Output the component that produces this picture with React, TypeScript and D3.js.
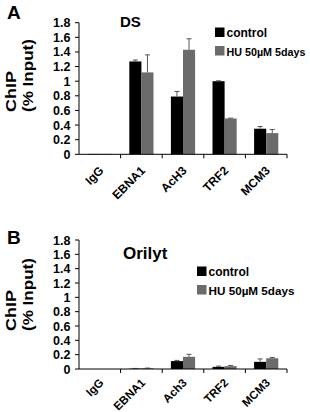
import React from "react";
import * as d3 from "d3";

const categoriesA = ["IgG", "EBNA1", "AcH3", "TRF2", "MCM3"];
const controlA = [0.005, 1.27, 0.79, 1.0, 0.35];
const controlErrA = [0, 0.02, 0.07, 0.005, 0.03];
const huA = [0.005, 1.12, 1.43, 0.49, 0.29];
const huErrA = [0, 0.24, 0.15, 0.005, 0.05];

const categoriesB = ["IgG", "EBNA1", "Ach3", "TRF2", "MCM3"];
const controlB = [0, 0.005, 0.11, 0.03, 0.1];
const controlErrB = [0, 0.003, 0.01, 0.01, 0.04];
const huB = [0, 0.01, 0.17, 0.04, 0.15];
const huErrB = [0, 0.003, 0.035, 0.01, 0.01];

const yTicks = [0, 0.2, 0.4, 0.6, 0.8, 1, 1.2, 1.4, 1.6, 1.8];
const yTickLabels = ["0", "0.2", "0.4", "0.6", "0.8", "1", "1.2", "1.4", "1.6", "1.8"];
const seriesNames = ["control", "HU 50\u00b5M 5days"];
const seriesColors = ["#000000", "#6b6b6b"];

const FONT = "'Liberation Sans', Arial, sans-serif";

type PanelProps = {
  top: number;
  bottom: number;
  letter: string;
  letterY: number;
  title: string;
  titleX: number;
  titleY: number;
  titleSize: number;
  labelStart: number;
  xLabelDy: number;
  xLabelSize: number;
  categories: string[];
  control: number[];
  controlErr: number[];
  hu: number[];
  huErr: number[];
  legendX: number;
  legendY: number;
  legendLen: number;
};

function Panel(p: PanelProps) {
  const left = 79;
  const right = 287;
  const y = d3.scaleLinear().domain([0, 1.8]).range([p.bottom, p.top]);
  const x = d3.scaleBand<string>().domain(p.categories).range([left, right]).paddingInner(0).paddingOuter(0);
  const bw = x.bandwidth();
  const sub = d3.scaleBand<number>().domain([0, 1]).range([0, bw]).paddingOuter(0.72).paddingInner(0);
  const sw = sub.bandwidth();
  const series = [
    { vals: p.control, errs: p.controlErr },
    { vals: p.hu, errs: p.huErr },
  ];
  const boundaries = p.categories.map((c) => (x(c) as number) + bw);
  return (
    <g>
      <text x={7} y={p.letterY} fontFamily={FONT} fontWeight="bold" fontSize={19}>
        {p.letter}
      </text>
      <text x={p.titleX} y={p.titleY} fontFamily={FONT} fontWeight="bold" fontSize={p.titleSize}>
        {p.title}
      </text>
      {/* y label */}
      <text
        transform={`translate(16,${p.labelStart}) rotate(-90)`}
        fontFamily={FONT}
        fontWeight="bold"
        fontSize={15.5}
        textLength={41}
        lengthAdjust="spacingAndGlyphs"
      >
        ChIP
      </text>
      <text
        transform={`translate(32.5,${p.labelStart}) rotate(-90)`}
        fontFamily={FONT}
        fontWeight="bold"
        fontSize={15}
        textLength={73}
        lengthAdjust="spacingAndGlyphs"
      >
        (% Input)
      </text>
      {/* bars */}
      {series.map((s, si) =>
        p.categories.map((c, i) => {
          const bx = (x(c) as number) + (sub(si) as number);
          const v = s.vals[i];
          const e = s.errs[i];
          const cx = bx + sw / 2;
          return (
            <g key={`${si}-${i}`}>
              <rect x={bx} y={y(v)} width={sw} height={Math.max(0, y(0) - y(v))} fill={seriesColors[si]} />
              {e > 0 && (
                <g stroke="#555" strokeWidth={1}>
                  <line x1={cx} x2={cx} y1={y(v)} y2={y(v + e)} />
                  <line x1={cx - 2.5} x2={cx + 2.5} y1={y(v + e)} y2={y(v + e)} />
                </g>
              )}
            </g>
          );
        })
      )}
      {/* y axis */}
      <line x1={left} x2={left} y1={p.top} y2={p.bottom} stroke="#000" strokeWidth={1} />
      {yTicks.map((t, i) => (
        <g key={t}>
          <line x1={left - 4} x2={left} y1={y(t)} y2={y(t)} stroke="#000" />
          <text
            x={left - 8.5}
            y={y(t)}
            dy="0.36em"
            textAnchor="end"
            fontFamily={FONT}
            fontWeight="bold"
            fontSize={12.5}
          >
            {yTickLabels[i]}
          </text>
        </g>
      ))}
      {/* x axis */}
      <line x1={left} x2={right} y1={p.bottom} y2={p.bottom} stroke="#000" strokeWidth={1} />
      {boundaries.map((bx, i) => (
        <line key={i} x1={bx} x2={bx} y1={p.bottom} y2={p.bottom + 4} stroke="#000" />
      ))}
      {p.categories.map((c) => {
        const cx = (x(c) as number) + bw / 2 + 4.5;
        return (
          <text
            key={c}
            transform={`translate(${cx},${p.bottom + p.xLabelDy}) rotate(-45)`}
            textAnchor="end"
            fontFamily={FONT}
            fontWeight="bold"
            fontSize={p.xLabelSize}
          >
            {c}
          </text>
        );
      })}
      {/* legend */}
      {seriesNames.map((n, i) => (
        <g key={n}>
          <rect x={p.legendX} y={p.legendY + i * 18.5 - 9.5} width={9.5} height={9.5} fill={seriesColors[i]} />
          <text
            x={p.legendX + 11.5}
            y={p.legendY + i * 18.5}
            fontFamily={FONT}
            fontWeight="bold"
            fontSize={i === 1 ? 11.2 : 12}
            textLength={i === 1 ? p.legendLen : undefined}
            lengthAdjust="spacingAndGlyphs"
          >
            {n}
          </text>
        </g>
      ))}
    </g>
  );
}

export default function App() {
  return (
    <svg
      width={310}
      height={412}
      style={{ position: "absolute", left: 0, top: 0, background: "#fff" }}
    >
      <rect width={310} height={412} fill="#fff" />
      <Panel
        top={22.7}
        bottom={154.3}
        letter="A"
        letterY={19}
        title="DS"
        titleX={120}
        titleY={26.5}
        titleSize={15}
        labelStart={112}
        xLabelDy={17}
        xLabelSize={12}
        categories={categoriesA}
        control={controlA}
        controlErr={controlErrA}
        hu={huA}
        huErr={huErrA}
        legendX={215}
        legendY={37}
        legendLen={79}
      />
      <Panel
        top={240}
        bottom={369}
        letter="B"
        letterY={244}
        title="Orilyt"
        titleX={123}
        titleY={259}
        titleSize={17}
        labelStart={331}
        xLabelDy={14.5}
        xLabelSize={11.5}
        categories={categoriesB}
        control={controlB}
        controlErr={controlErrB}
        hu={huB}
        huErr={huErrB}
        legendX={197}
        legendY={276}
        legendLen={86}
      />
    </svg>
  );
}
